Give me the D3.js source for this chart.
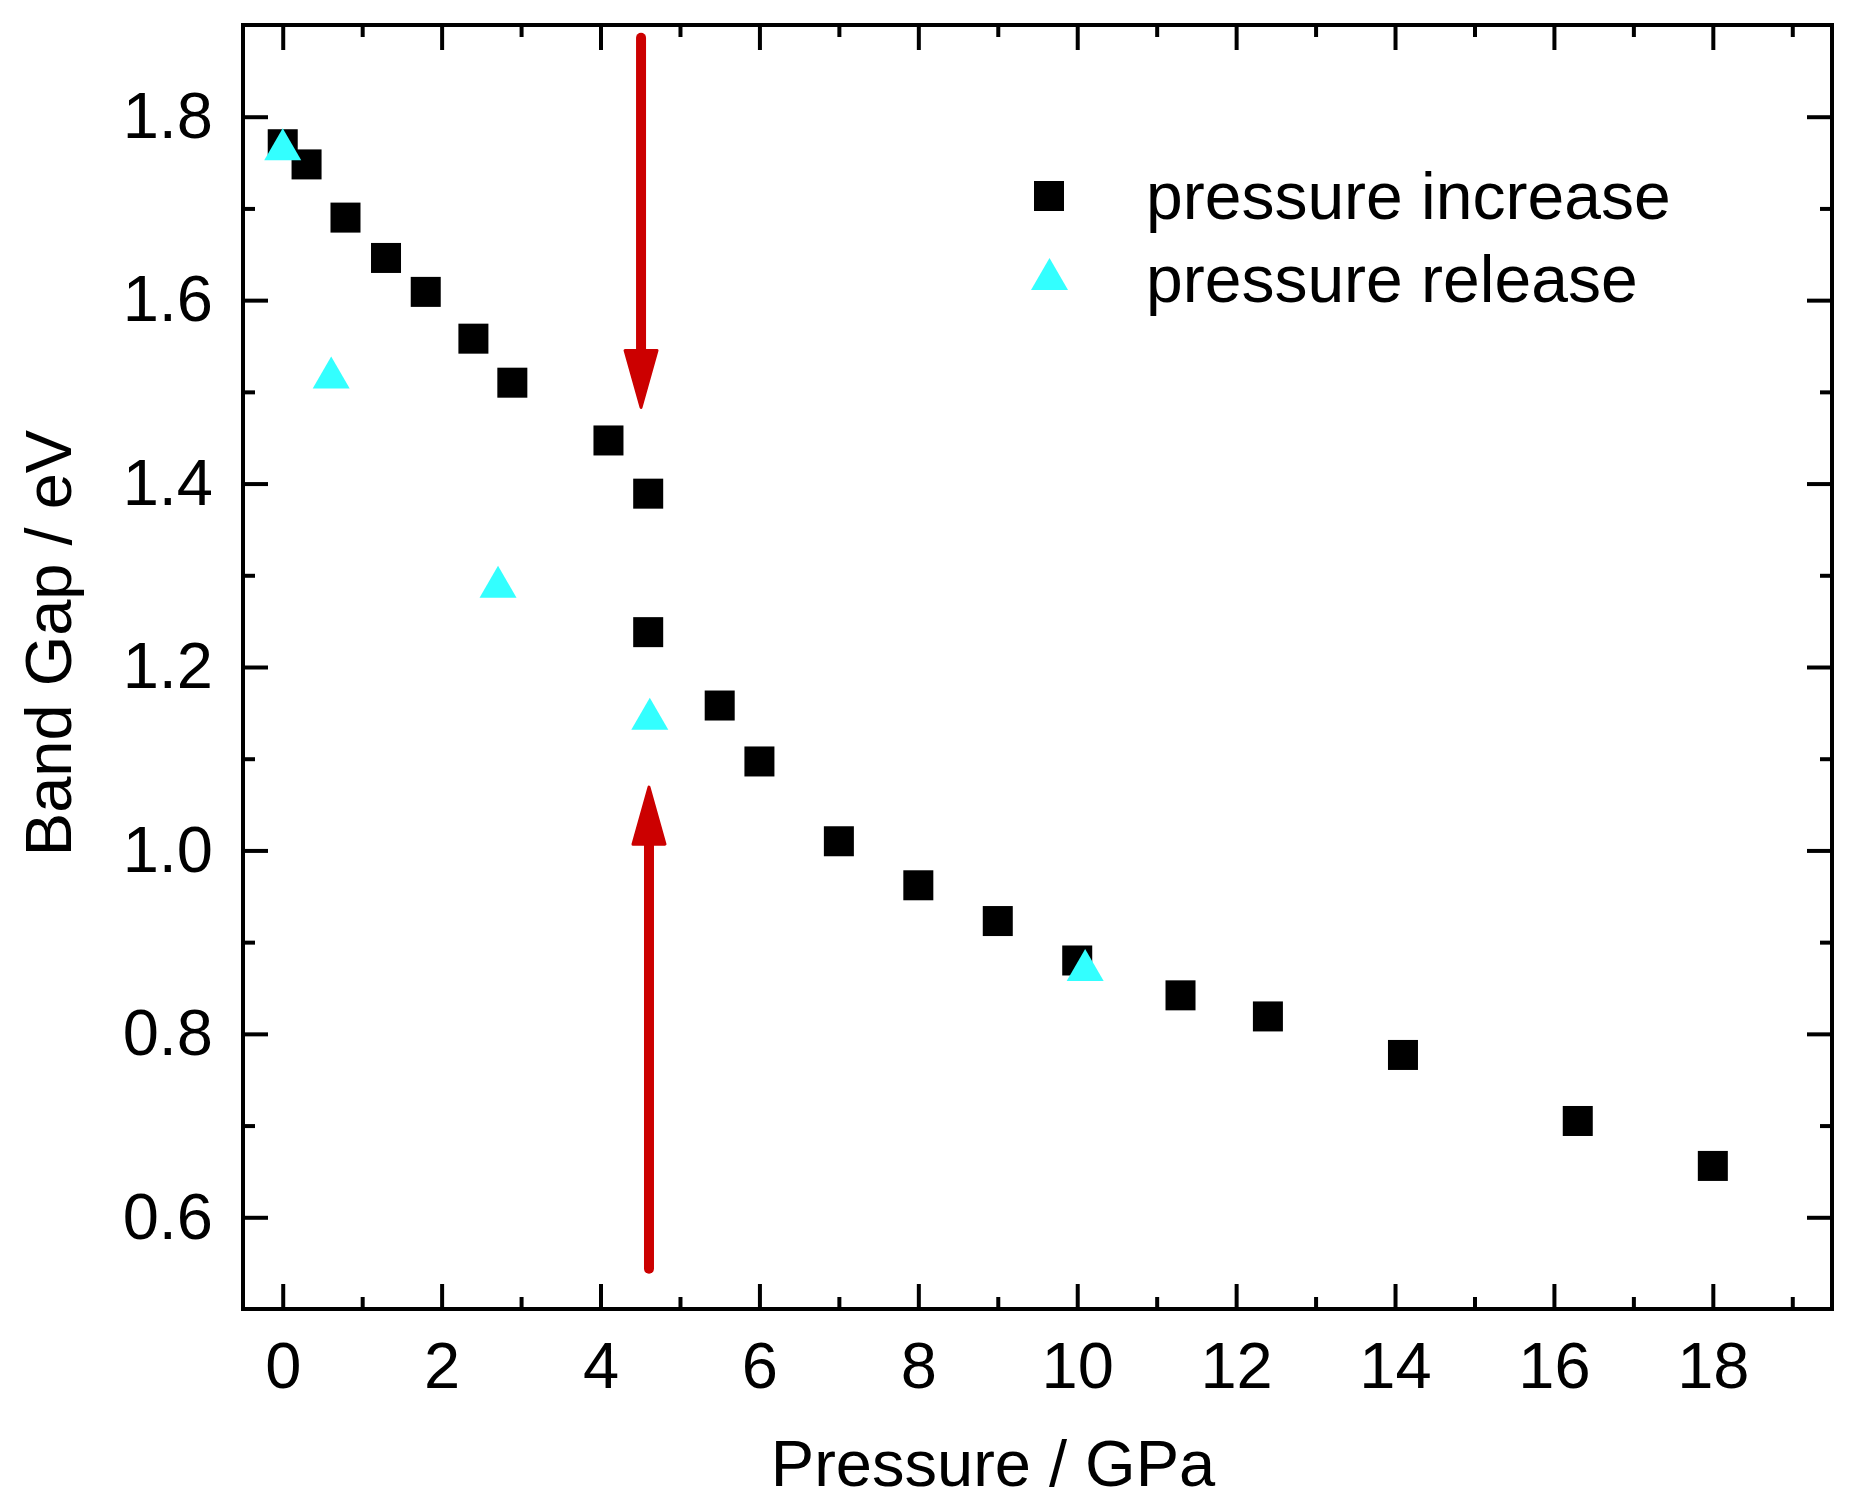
<!DOCTYPE html>
<html>
<head>
<meta charset="utf-8">
<script src="https://cdn.jsdelivr.net/npm/d3@7"></script>
<style>
  body { margin: 0; background: #fff; }
  svg { display: block; }
  .axis text { font-family: "Liberation Sans", Arial, sans-serif; font-size: 65px; fill: #000; }
  .title { font-family: "Liberation Sans", Arial, sans-serif; font-size: 65px; fill: #000; }
</style>
</head>
<body>
<svg width="1866" height="1511"></svg>
<script>
// pressure increase (black squares)
var incP   = [0, 0.30, 0.79, 1.30, 1.80, 2.40, 2.89, 4.10, 4.60, 4.60, 5.50, 6.00, 7.00, 8.00, 9.00, 10.00, 11.30, 12.40, 14.10, 16.30, 18.00];
var incGap = [1.770, 1.748, 1.690, 1.646, 1.609, 1.558, 1.510, 1.447, 1.389, 1.238, 1.158, 1.097, 1.010, 0.962, 0.923, 0.880, 0.842, 0.819, 0.777, 0.705, 0.656];

// pressure release (cyan triangles)
var relP   = [0.00, 0.61, 2.71, 4.62, 10.10];
var relGap = [1.770, 1.521, 1.293, 1.149, 0.875];

// red arrows: x, start y, tip y
var arrowX    = [4.51, 4.61];
var arrowFrom = [1.886, 0.544];
var arrowTo   = [1.483, 1.069];

var xMajor = [0, 2, 4, 6, 8, 10, 12, 14, 16, 18];
var xMinor = [1, 3, 5, 7, 9, 11, 13, 15, 17, 19];
var yMajor = [0.6, 0.8, 1.0, 1.2, 1.4, 1.6, 1.8];
var yMinor = [0.7, 0.9, 1.1, 1.3, 1.5, 1.7];

var legendNames = ["pressure increase", "pressure release"];

var svg = d3.select("svg"),
    margin = {top: 25, right: 34, bottom: 202, left: 243},
    width = +svg.attr("width") - margin.left - margin.right,
    height = +svg.attr("height") - margin.top - margin.bottom,
    g = svg.append("g").attr("transform", "translate(" + margin.left + "," + margin.top + ")");

var x = d3.scaleLinear().domain([-0.5, 19.5]).range([0, width]);
var y = d3.scaleLinear().domain([0.5, 1.9]).range([height, 0]);

function clean(sel) {
  sel.select(".domain").remove();
  sel.selectAll(".tick line").attr("stroke", "#000").attr("stroke-width", 4);
}

// major + minor ticks on all four sides, pointing inwards
g.append("g").attr("class", "axis").attr("transform", "translate(0," + height + ")")
    .call(d3.axisBottom(x).tickValues(xMajor).tickSize(-25).tickPadding(33).tickFormat(d3.format("d"))).call(clean);
g.append("g").attr("class", "axis").attr("transform", "translate(0," + height + ")")
    .call(d3.axisBottom(x).tickValues(xMinor).tickSize(-12).tickFormat("")).call(clean);
g.append("g").attr("class", "axis")
    .call(d3.axisTop(x).tickValues(xMajor).tickSize(-25).tickFormat("")).call(clean);
g.append("g").attr("class", "axis")
    .call(d3.axisTop(x).tickValues(xMinor).tickSize(-12).tickFormat("")).call(clean);

g.append("g").attr("class", "axis")
    .call(d3.axisLeft(y).tickValues(yMajor).tickSize(-25).tickPadding(30).tickFormat(d3.format(".1f"))).call(clean);
g.append("g").attr("class", "axis")
    .call(d3.axisLeft(y).tickValues(yMinor).tickSize(-12).tickFormat("")).call(clean);
g.append("g").attr("class", "axis").attr("transform", "translate(" + width + ",0)")
    .call(d3.axisRight(y).tickValues(yMajor).tickSize(-25).tickFormat("")).call(clean);
g.append("g").attr("class", "axis").attr("transform", "translate(" + width + ",0)")
    .call(d3.axisRight(y).tickValues(yMinor).tickSize(-12).tickFormat("")).call(clean);

// frame
g.append("rect")
    .attr("width", width)
    .attr("height", height)
    .attr("fill", "none")
    .attr("stroke", "#000")
    .attr("stroke-width", 4);

// axis titles
svg.append("text")
    .attr("class", "title")
    .attr("x", 993)
    .attr("y", 1486)
    .style("text-anchor", "middle")
    .text("Pressure / GPa");

svg.append("text")
    .attr("class", "title")
    .attr("transform", "translate(71,643) rotate(-90)")
    .style("text-anchor", "middle")
    .text("Band Gap / eV");

var sq = 30;
var triangle = "M0,-16L18.5,16L-18.5,16Z";

var inc = incP.map(function(p, i) { return {p: p, gap: incGap[i]}; });
var rel = relP.map(function(p, i) { return {p: p, gap: relGap[i]}; });

g.selectAll(".inc")
  .data(inc)
  .enter().append("rect")
    .attr("class", "inc")
    .attr("x", function(d) { return x(d.p) - sq / 2; })
    .attr("y", function(d) { return y(d.gap) - sq / 2; })
    .attr("width", sq)
    .attr("height", sq)
    .attr("fill", "#000");

g.selectAll(".rel")
  .data(rel)
  .enter().append("path")
    .attr("class", "rel")
    .attr("transform", function(d) { return "translate(" + x(d.p) + "," + y(d.gap) + ")"; })
    .attr("d", triangle)
    .attr("fill", "#33ffff");

// arrows
var arrows = arrowX.map(function(a, i) { return {x: a, from: arrowFrom[i], to: arrowTo[i]}; });
var headLen = 57, headW = 16;

var ag = g.selectAll(".arrow")
  .data(arrows)
  .enter().append("g")
    .attr("class", "arrow");

ag.append("line")
    .attr("x1", function(d) { return x(d.x); })
    .attr("x2", function(d) { return x(d.x); })
    .attr("y1", function(d) { return y(d.from); })
    .attr("y2", function(d) {
      var dir = y(d.to) > y(d.from) ? 1 : -1;
      return y(d.to) - dir * (headLen - 4);
    })
    .attr("stroke", "#cc0000")
    .attr("stroke-width", 10)
    .attr("stroke-linecap", "round");

ag.append("path")
    .attr("d", function(d) {
      var cx = x(d.x), tip = y(d.to);
      var dir = tip > y(d.from) ? 1 : -1;
      var base = tip - dir * headLen;
      return "M" + cx + "," + tip + "L" + (cx + headW) + "," + base + "L" + (cx - headW) + "," + base + "Z";
    })
    .attr("fill", "#cc0000")
    .attr("stroke", "#cc0000")
    .attr("stroke-width", 3)
    .attr("stroke-linejoin", "round");

// legend
var legend = svg.append("g").attr("class", "legend");
legend.append("rect")
    .attr("x", 1049 - sq / 2)
    .attr("y", 196 - sq / 2)
    .attr("width", sq)
    .attr("height", sq)
    .attr("fill", "#000");
legend.append("path")
    .attr("transform", "translate(1049.5,274)")
    .attr("d", triangle)
    .attr("fill", "#33ffff");

legend.selectAll("text")
  .data(legendNames)
  .enter().append("text")
    .attr("class", "title")
    .attr("x", 1146)
    .attr("y", function(d, i) { return 219 + i * 82.5; })
    .style("font-size", "66px")
    .text(function(d) { return d; });
</script>
</body>
</html>
